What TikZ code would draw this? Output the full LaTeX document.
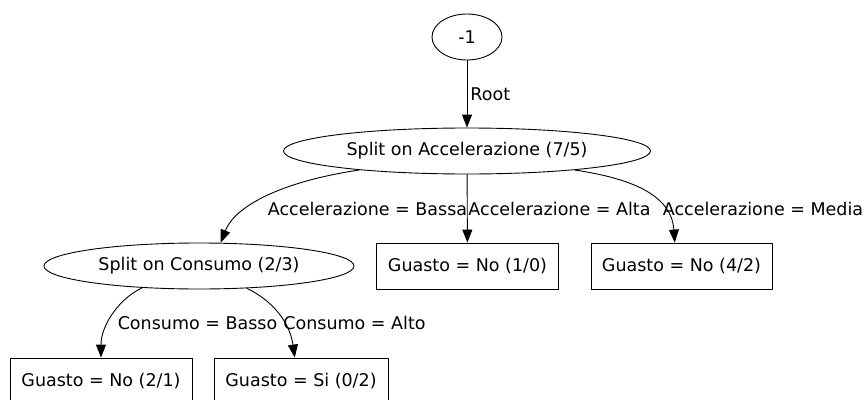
\documentclass[tikz,border=0pt]{standalone}
\usepackage{fontspec}
\setmainfont{DejaVu Sans}
\usepackage{tikz}
\usetikzlibrary{arrows.meta,shapes}

\begin{document}
\begin{tikzpicture}[font=\fontsize{17.5bp}{21bp}\selectfont,
  split/.style={draw,ellipse,line width=0.9bp,inner sep=0pt,minimum height=46bp},
  leaf/.style={draw,rectangle,line width=0.9bp,inner sep=0pt,minimum height=46bp},
  edge/.style={-{Triangle[length=13bp,width=10bp]},line width=0.9bp},
  lbl/.style={inner sep=0pt}]

\clip (0bp,0bp) rectangle (866bp,-400bp);

\node (root) at (467bp,-37bp)[split,minimum width=70bp] {-1};
\node (acc) at (467bp,-151bp)[split,minimum width=367bp] {Split on Accelerazione (7/5)};
\node (cons) at (199bp,-266bp)[split,minimum width=310bp] {Split on Consumo (2/3)};
\node (alta) at (467.5bp,-266bp)[leaf,minimum width=182bp] {Guasto = No (1/0)};
\node (media) at (681.5bp,-266bp)[leaf,minimum width=181bp] {Guasto = No (4/2)};
\node (basso) at (101bp,-381bp)[leaf,minimum width=182bp] {Guasto = No (2/1)};
\node (alto) at (301bp,-381bp)[leaf,minimum width=174bp] {Guasto = Si (0/2)};

\draw [edge] (root) -- node[lbl,right=3bp] {Root} (acc);
\draw [edge] (acc.190) .. controls +(-80bp,-12bp) and +(14bp,36bp) .. (cons.47)
  node[lbl] at (367.5bp,-209bp) {Accelerazione = Bassa};
\draw [edge] (acc) -- (alta) node[lbl] at (559.5bp,-209bp) {Accelerazione = Alta};
\draw [edge] (acc.350) .. controls +(67bp,-10bp) and +(-3bp,43bp) .. (media.106)
  node[lbl] at (763bp,-209bp) {Accelerazione = Media};
\draw [edge] (cons.201) .. controls +(-22bp,-10bp) and +(0bp,33bp) .. (basso.north)
  node[lbl] at (197.5bp,-323bp) {Consumo = Basso};
\draw [edge] (cons.335) .. controls +(25bp,-12bp) and +(-5bp,36bp) .. (alto.105)
  node[lbl] at (354.5bp,-323bp) {Consumo = Alto};
\end{tikzpicture}
\end{document}
